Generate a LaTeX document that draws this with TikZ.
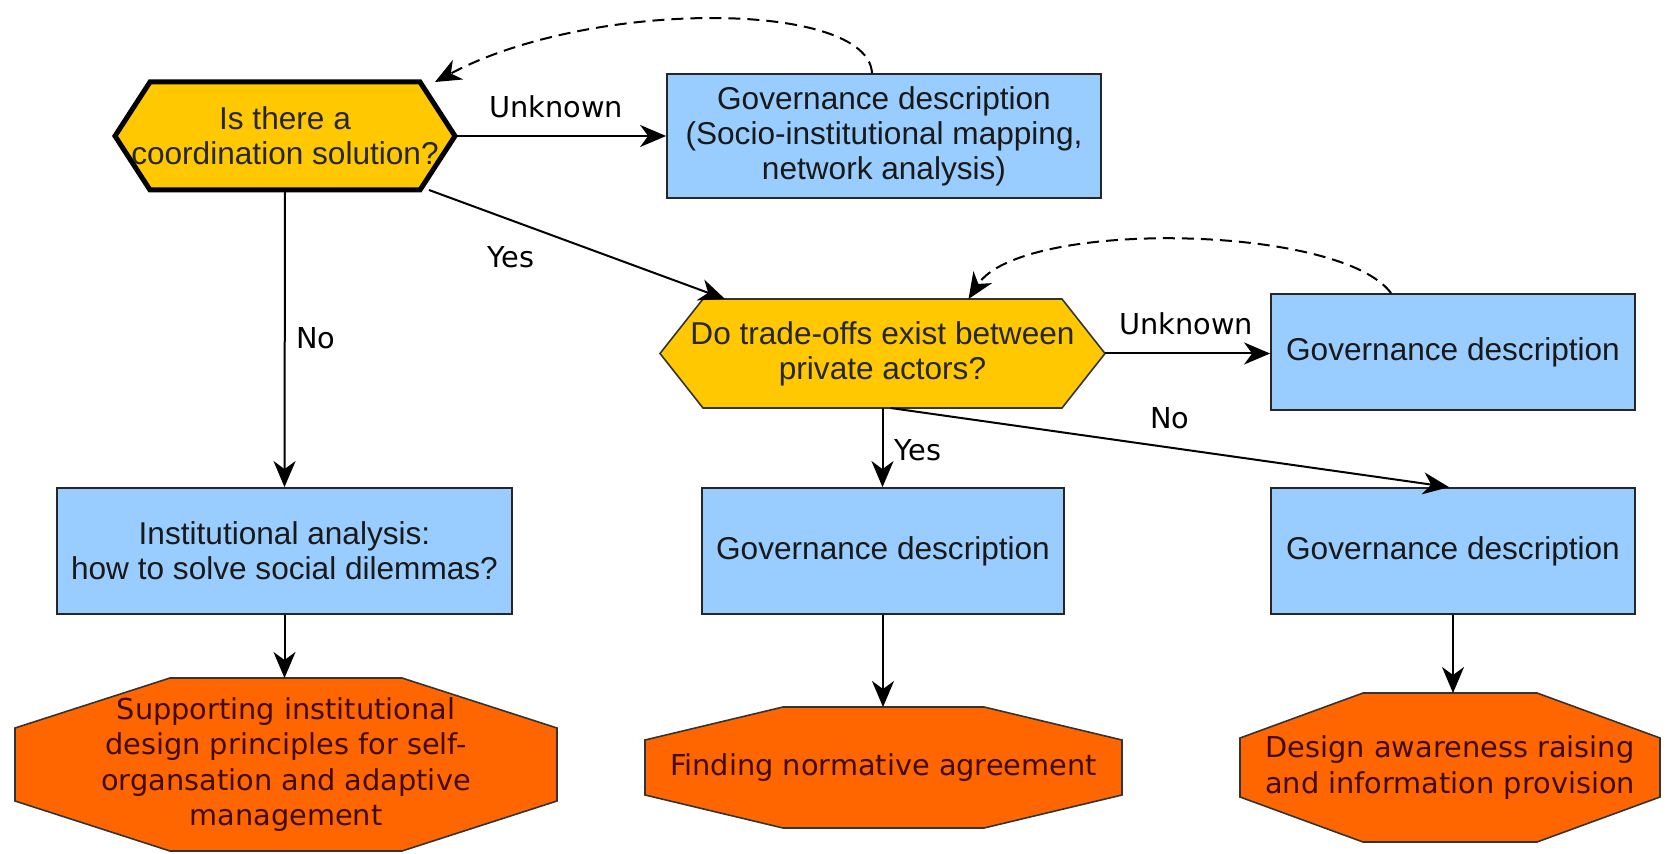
\documentclass[tikz,border=0pt]{standalone}
\usepackage{fontspec}
\setmainfont{Liberation Sans}
\newfontfamily\lucida{DejaVu Sans}
\usetikzlibrary{arrows.meta, backgrounds}
\definecolor{qyellow}{RGB}{255,200,0}
\definecolor{gblue}{RGB}{153,204,255}
\definecolor{oorange}{RGB}{255,102,0}
\definecolor{otext}{RGB}{64,12,0}
\newcommand{\hexoutline}[2]{(#1.west) -- ([xshift=#2]#1.north west) -- ([xshift=-#2]#1.north east) -- (#1.east) -- ([xshift=-#2]#1.south east) -- ([xshift=#2]#1.south west) -- cycle}
\newcommand{\octoutline}[3]{([yshift=-#3]#1.north west) -- ([xshift=#2]#1.north west) -- ([xshift=-#2]#1.north east) -- ([yshift=-#3]#1.north east) -- ([yshift=#3]#1.south east) -- ([xshift=-#2]#1.south east) -- ([xshift=#2]#1.south west) -- ([yshift=#3]#1.south west) -- cycle}
\begin{document}
\begin{tikzpicture}[x=0.5pt, y=-0.5pt,
  box/.style={draw=black!85, line width=0.9pt, fill=gblue, align=center, inner sep=0pt, font=\fontsize{15.8}{17.5}\selectfont, text=black!90},
  quest/.style={align=center, inner sep=0pt, outer sep=0pt, font=\fontsize{15.8}{17.5}\selectfont, text=black!85},
  outcome/.style={align=center, inner sep=0pt, outer sep=0pt, font=\lucida\fontsize{14.4}{17.8}\selectfont, text=otext},
  lbl/.style={font=\lucida\fontsize{14.4}{17}\selectfont, inner sep=0pt},
  arr/.style={-{Stealth[length=13pt, width=11pt, inset=4pt]}, line width=1pt},
  back/.style={arr, dashed, dash pattern=on 6pt off 3.5pt}]
\useasboundingbox (0,0) rectangle (1668,854);
\node[quest, minimum width=170pt, minimum height=54pt] (coord) at (285,136) {Is there a\\coordination solution?};
\node[box, minimum width=217pt, minimum height=62pt] (govtop) at (884,136) {Governance description\\(Socio-institutional mapping,\\network analysis)};
\node[quest, minimum width=222.5pt, minimum height=54.5pt] (trade) at (882.5,353.5) {Do trade-offs exist between\\private actors?};
\node[box, minimum width=182pt, minimum height=58pt] (govright) at (1453,352) {Governance description};
\node[box, minimum width=227.5pt, minimum height=63pt] (inst) at (284.5,551) {Institutional analysis:\\how to solve social dilemmas?};
\node[box, minimum width=181pt, minimum height=63pt] (govyes) at (883,551) {Governance description};
\node[box, minimum width=182pt, minimum height=63pt] (govno) at (1453,551) {Governance description};
\node[outcome, minimum width=271pt, minimum height=86.5pt] (support) at (286,764.5) {Supporting institutional\\design principles for self-\\organsation and adaptive\\management};
\node[outcome, minimum width=238.5pt, minimum height=60.5pt] (agree) at (883.5,767.5) {Finding normative agreement};
\node[outcome, minimum width=210pt, minimum height=74.5pt] (aware) at (1450,767.5) {Design awareness raising\\and information provision};
\begin{scope}[on background layer]
\filldraw[fill=qyellow, draw=black, line width=2.5pt] \hexoutline{coord}{17.5pt};
\filldraw[fill=qyellow, draw=black!80, line width=0.8pt] \hexoutline{trade}{21.5pt};
\filldraw[fill=oorange, draw=black!80, line width=0.8pt] \octoutline{support}{77.5pt}{25pt};
\filldraw[fill=oorange, draw=black!80, line width=0.8pt] \octoutline{agree}{69pt}{16.5pt};
\filldraw[fill=oorange, draw=black!80, line width=0.8pt] \octoutline{aware}{61.5pt}{22.5pt};
\end{scope}
\node[lbl] (unk1) at (556,107) {Unknown};
\node[lbl] (yes1) at (511,257) {Yes};
\node[lbl] (no1) at (316,338) {No};
\node[lbl] (unk2) at (1186,324) {Unknown};
\node[lbl] (yes2) at (918,450) {Yes};
\node[lbl] (no2) at (1170,418) {No};
\draw[arr] (coord.east) -- (govtop.west);
\draw[arr] ([xshift=-13pt]coord.south east) -- ([xshift=32.5pt]trade.north west);
\draw[arr] (coord.south) -- (inst.north);
\draw[back] ([xshift=-6pt]govtop.north) .. controls +(-4,-73) and +(155,-83) .. ([xshift=-10pt]coord.north east);
\draw[arr] (trade.east) -- (trade.east -| govright.west);
\draw[back] ([xshift=-31pt]govright.north) .. controls +(-51,-69) and +(52,-80) .. ([xshift=43pt]trade.north);
\draw[arr] (trade.south) -- (trade.south |- govyes.north);
\draw[arr] ([xshift=4pt]trade.south) -- ([xshift=-2pt]govno.north);
\draw[arr] (inst.south) -- (inst.south |- support.north);
\draw[arr] (govyes.south) -- (govyes.south |- agree.north);
\draw[arr] (govno.south) -- (govno.south |- aware.north);
\end{tikzpicture}
\end{document}
